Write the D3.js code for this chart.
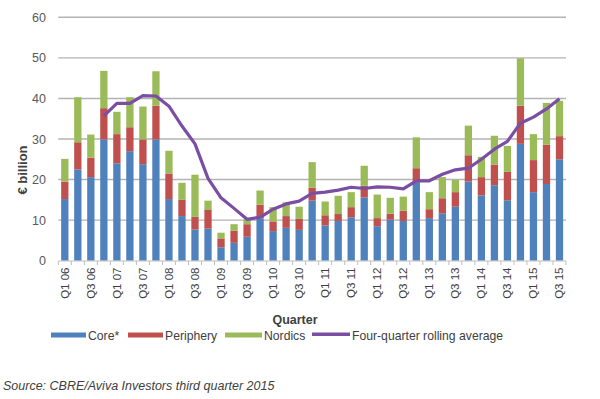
<!DOCTYPE html>
<html><head><meta charset="utf-8">
<script src="https://cdn.jsdelivr.net/npm/d3@7"></script>
<style>body{margin:0;background:#fff;}svg{display:block;font-family:"Liberation Sans",Arial,sans-serif;}</style>
</head><body>
<svg id="c" width="600" height="399"></svg>
<script>
const quarters = ["Q1 06","Q2 06","Q3 06","Q4 06","Q1 07","Q2 07","Q3 07","Q4 07","Q1 08","Q2 08","Q3 08","Q4 08","Q1 09","Q2 09","Q3 09","Q4 09","Q1 10","Q2 10","Q3 10","Q4 10","Q1 11","Q2 11","Q3 11","Q4 11","Q1 12","Q2 12","Q3 12","Q4 12","Q1 13","Q2 13","Q3 13","Q4 13","Q1 14","Q2 14","Q3 14","Q4 14","Q1 15","Q2 15","Q3 15"];
const core      = [15.2,22.5,20.6,29.9,24.0,27.0,23.8,29.9,15.2,11.0,7.7,7.9,3.3,4.4,5.9,10.4,7.3,8.1,7.6,14.8,8.7,9.8,10.7,15.6,8.5,10.1,9.8,19.2,10.5,11.7,13.3,19.5,16.1,18.6,14.9,28.8,16.9,18.9,25.0];
const periphery = [4.3,6.7,4.8,7.7,7.2,5.9,6.1,8.3,6.3,4.0,3.1,4.6,2.2,3.0,3.1,3.4,2.4,2.9,2.7,3.2,2.5,1.7,2.5,2.9,2.0,1.5,2.5,3.6,2.2,3.7,3.6,6.5,4.5,5.1,7.0,9.4,7.9,9.7,5.7];
const nordics   = [5.6,11.1,5.7,9.2,5.5,7.4,8.1,8.5,5.6,4.2,10.4,2.3,1.4,1.6,1.2,3.5,3.5,3.4,3.0,6.3,3.4,4.5,3.7,4.9,5.8,3.9,3.5,7.6,4.2,5.2,3.0,7.3,5.0,7.1,6.4,11.7,6.4,10.3,8.7];
const rollingAvg = [null,null,null,35.7,38.8,38.8,40.7,40.6,38.1,33.2,28.8,20.3,15.5,12.9,10.2,10.7,12.7,14.0,14.7,16.6,16.9,17.4,18.1,17.8,18.2,18.1,17.7,19.7,19.7,21.3,22.4,22.8,25.0,27.5,29.4,33.9,35.4,37.4,39.9];
const yTicks = [0,10,20,30,40,50,60];
const seriesNames = ["Core*","Periphery","Nordics","Four-quarter rolling average"];
const colors = ["#4f81bd","#c0504d","#9bbb59","#7a4ea3"];

const svg = d3.select("#c");
const x = d3.scaleBand().domain(quarters).range([58.3,566]).paddingInner(0.44).paddingOuter(0.22);
const y = d3.scaleLinear().domain([0,60]).range([260.7,17.3]);

// gridlines
svg.append("g").selectAll("line").data(yTicks.slice(1)).join("line")
  .attr("x1",58.3).attr("x2",566).attr("y1",d=>y(d)).attr("y2",d=>y(d))
  .attr("stroke","#b3b3b3").attr("stroke-width",1.4);

// y tick labels
svg.append("g").selectAll("text").data(yTicks).join("text")
  .attr("x",46).attr("y",d=>y(d)+4.5).attr("text-anchor","end")
  .attr("font-size",12.5).attr("fill","#595959").text(d=>d);

// stacked bars
const rows = quarters.map((q,i)=>({q, core:core[i], periphery:periphery[i], nordics:nordics[i]}));
const stack = d3.stack().keys(["core","periphery","nordics"])(rows);
svg.append("g").selectAll("g").data(stack).join("g")
  .attr("fill",(d,i)=>colors[i])
  .selectAll("rect").data(d=>d).join("rect")
  .attr("x",d=>x(d.data.q)).attr("width",x.bandwidth())
  .attr("y",d=>y(d[1])).attr("height",d=>y(d[0])-y(d[1]));

// x axis line and ticks
const step = x.step();
svg.append("line").attr("x1",58.3).attr("x2",566).attr("y1",261).attr("y2",261).attr("stroke","#bfbfbf").attr("stroke-width",1.2);
svg.append("g").selectAll("line").data(d3.range(quarters.length+1)).join("line")
  .attr("x1",d=>58.3+d*step).attr("x2",d=>58.3+d*step).attr("y1",261).attr("y2",265)
  .attr("stroke","#bfbfbf").attr("stroke-width",1);

// x labels (every other)
svg.append("g").selectAll("text").data(quarters.filter((q,i)=>i%2===0)).join("text")
  .attr("transform",d=>`translate(${x(d)+x.bandwidth()/2+4},267.5) rotate(-90)`)
  .attr("text-anchor","end").attr("font-size",11.5).attr("fill","#404040").text(d=>d);

// rolling average line
const line = d3.line().defined(d=>d.v!=null).x(d=>x(d.q)+x.bandwidth()/2).y(d=>y(d.v));
svg.append("path").datum(quarters.map((q,i)=>({q,v:rollingAvg[i]})))
  .attr("d",line).attr("fill","none").attr("stroke",colors[3]).attr("stroke-width",3.2).attr("stroke-linejoin","round");

// axis titles
svg.append("text").attr("transform","translate(27,170) rotate(-90)").attr("text-anchor","middle")
  .attr("font-size",13).attr("font-weight","bold").attr("fill","#404040").text("€ billion");
svg.append("text").attr("x",295).attr("y",323.5).attr("text-anchor","middle")
  .attr("font-size",12.5).attr("font-weight","bold").attr("fill","#404040").text("Quarter");

// legend
const legX = [51,128,225,312];
const legW = [35,35,37,38];
const lg = svg.append("g").selectAll("g").data(seriesNames).join("g")
  .attr("transform",(d,i)=>`translate(${legX[i]},335)`);
lg.append("rect").attr("x",0).attr("y",-2.5).attr("width",(d,i)=>legW[i]).attr("height",(d,i)=>i===3?3.5:5)
  .attr("fill",(d,i)=>colors[i]);
lg.append("text").attr("x",(d,i)=>legW[i]+2).attr("y",4.5).attr("font-size",12.2).attr("fill","#404040").text(d=>d);

// source
svg.append("text").attr("x",3).attr("y",389.5).attr("font-size",12.5).attr("font-style","italic").attr("fill","#404040")
  .text("Source: CBRE/Aviva Investors third quarter 2015");
</script>
</body></html>
